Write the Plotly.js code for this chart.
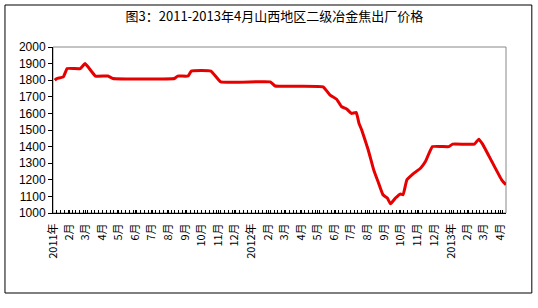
<!DOCTYPE html>
<html>
<head>
<meta charset="utf-8">
<script src="https://cdn.plot.ly/plotly-3.0.1.min.js"></script>
<style>html,body{margin:0;padding:0;background:#fff;}#chart{width:538px;height:308px;}</style>
</head>
<body>
<div id="chart"></div>
<script>
// Data (date, price in 元/吨)
const dates = [
  '2011-01-04','2011-01-08','2011-01-20','2011-01-27','2011-02-20','2011-03-01','2011-03-20',
  '2011-04-12','2011-04-21','2011-08-12','2011-08-18','2011-09-06','2011-09-12','2011-10-18',
  '2011-11-05','2012-02-04','2012-02-13','2012-05-11','2012-05-24','2012-06-05','2012-06-14',
  '2012-06-24','2012-07-02','2012-07-11','2012-07-16','2012-07-21','2012-08-02','2012-08-12',
  '2012-08-21','2012-08-29','2012-09-06','2012-09-12','2012-09-21','2012-09-30','2012-10-05',
  '2012-10-12','2012-10-25','2012-11-06','2012-11-15','2012-11-28','2012-12-28','2013-01-04',
  '2013-02-13','2013-02-21','2013-02-28','2013-03-17','2013-04-04','2013-04-12'
];
const prices = [
  1800,1810,1820,1870,1870,1900,1825,
  1825,1810,1810,1825,1825,1855,1855,
  1790,1790,1765,1760,1710,1685,1640,
  1625,1600,1605,1540,1500,1380,1260,
  1180,1110,1090,1055,1090,1115,1110,
  1200,1240,1270,1310,1400,1400,1415,
  1415,1445,1415,1310,1200,1170
];
const tickDates = [
  '2011-01-01','2011-02-01','2011-03-01','2011-04-01','2011-05-01','2011-06-01','2011-07-01',
  '2011-08-01','2011-09-01','2011-10-01','2011-11-01','2011-12-01','2012-01-01','2012-02-01',
  '2012-03-01','2012-04-01','2012-05-01','2012-06-01','2012-07-01','2012-08-01','2012-09-01',
  '2012-10-01','2012-11-01','2012-12-01','2013-01-01','2013-02-01','2013-03-01','2013-04-01'
];
const tickLabels = [
  '2011年','2月','3月','4月','5月','6月','7月','8月','9月','10月','11月','12月',
  '2012年','2月','3月','4月','5月','6月','7月','8月','9月','10月','11月','12月',
  '2013年','2月','3月','4月'
];
const yTicks = [1000,1100,1200,1300,1400,1500,1600,1700,1800,1900,2000];
const titleText = '图3：2011-2013年4月山西地区二级冶金焦出厂价格';

const trace = {
  x: dates, y: prices, type: 'scatter', mode: 'lines',
  line: {color: 'rgb(230,0,0)', width: 3, shape: 'spline', smoothing: 0.3},
  hoverinfo: 'skip'
};

const layout = {
  width: 538, height: 308,
  margin: {l: 53, r: 32, t: 47, b: 95},
  paper_bgcolor: '#fff', plot_bgcolor: '#fff',
  showlegend: false,
  title: {
    text: titleText, x: 0.51, xanchor: 'center', y: 0.945, yanchor: 'middle',
    font: {family: '"Noto Sans CJK SC", sans-serif', size: 13, color: '#000'}
  },
  xaxis: {
    type: 'date', range: ['2011-01-01', '2013-04-12'],
    tickmode: 'array', tickvals: tickDates, ticktext: tickLabels,
    tickangle: -90, ticks: 'inside', ticklen: 3, tickcolor: '#000',
    ticklabelstandoff: 5,
    minor: {ticks: 'inside', ticklen: 3, tickcolor: '#000', dtick: 604800000, tick0: '2011-01-01', showgrid: false},
    showline: true, linecolor: '#000', linewidth: 1,
    showgrid: false, zeroline: false, fixedrange: true,
    tickfont: {family: '"Noto Sans CJK SC", sans-serif', size: 11, color: '#000'}
  },
  yaxis: {
    range: [1000, 2000], tickmode: 'array', tickvals: yTicks,
    ticks: 'outside', ticklen: 4, tickcolor: '#000',
    showline: true, linecolor: '#000', linewidth: 1,
    showgrid: false, zeroline: false, fixedrange: true,
    tickfont: {family: '"Liberation Sans", Arial, sans-serif', size: 12, color: '#000'}
  },
  shapes: [
    {type: 'rect', xref: 'paper', yref: 'paper', x0: 0, x1: 1, y0: 0, y1: 1,
     line: {color: '#888', width: 1}, layer: 'below'},
    {type: 'rect', xref: 'paper', yref: 'paper', x0: -0.106, x1: 1.057, y0: -0.482, y1: 1.253,
     line: {color: '#000', width: 1}, layer: 'below'}
  ]
};

Plotly.newPlot('chart', [trace], layout, {staticPlot: true, displayModeBar: false});
</script>
</body>
</html>
